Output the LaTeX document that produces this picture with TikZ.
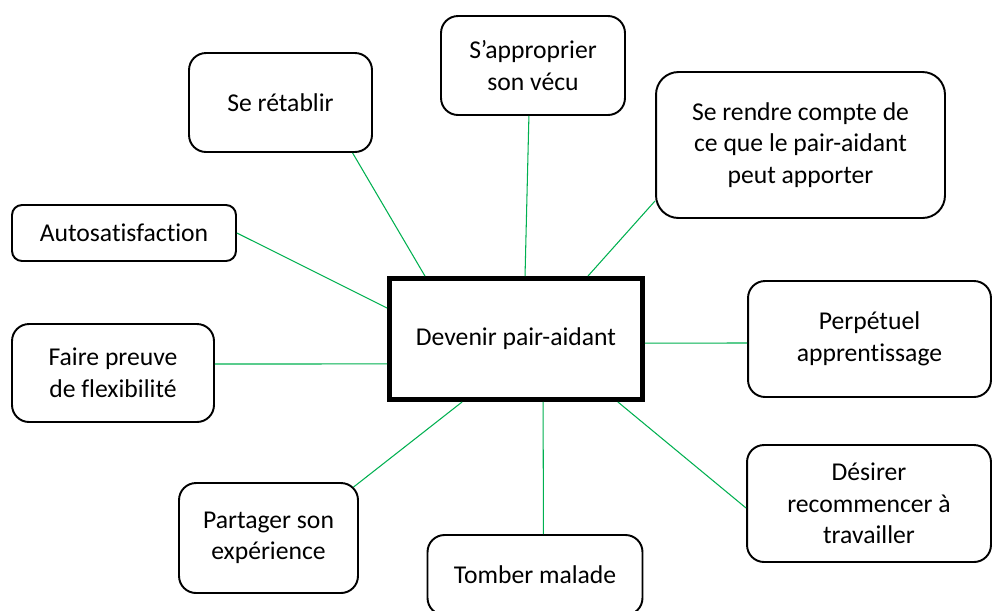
\documentclass[tikz,border=0pt]{standalone}
\usepackage{fontspec}
\setmainfont{Carlito}[Ligatures=NoCommon]
\usetikzlibrary{calc}
\definecolor{vert}{RGB}{0,176,80}

\begin{document}
\begin{tikzpicture}
			[x=0.02cm,y=-0.02cm,
			theme/.style={draw,line width=1.1pt,rounded corners=#1,align=center,inner sep=0pt,font=\fontsize{14.6pt}{18pt}\selectfont},
			theme/.default=0.34cm,
			centre/.style={draw,line width=2.8pt,align=center,inner sep=0pt,font=\fontsize{14.6pt}{18pt}\selectfont},
			lien/.style={draw=vert,line width=0.6pt},]
			\useasboundingbox (0,0) rectangle (993,610);
			\node (cen) at (516,339)[centre,minimum width=5.06cm,minimum height=2.42cm] {Devenir pair-aidant};
			\node (ret) at (280.5,102.5)[theme,minimum width=3.66cm,minimum height=1.98cm] {Se rétablir};
			\node (appr) at (533,65.5)[theme,minimum width=3.68cm,minimum height=1.98cm] {S’approprier\\son vécu};
			\node (compte) at (800.5,145)[theme=0.45cm,minimum width=5.78cm,minimum height=2.92cm] {Se rendre compte de\\ce que le pair-aidant\\peut apporter};
			\node (auto) at (124,233)[theme=0.2cm,minimum width=4.48cm,minimum height=1.12cm] {Autosatisfaction};
			\node (flex) at (113,373)[theme,minimum width=4.04cm,minimum height=1.96cm] {Faire preuve\\de flexibilité};
			\node (perp) at (869.5,339)[theme,minimum width=4.86cm,minimum height=2.32cm] {Perpétuel\\apprentissage};
			\node (desir) at (869,503.5)[theme,minimum width=4.88cm,minimum height=2.34cm] {Désirer\\recommencer à\\travailler};
			\node (part) at (268.5,538)[theme,minimum width=3.58cm,minimum height=2.2cm] {Partager son\\expérience};
			\node (tomb) at (535,575)[theme,minimum width=4.3cm,minimum height=1.6cm] {Tomber malade};
			
			\draw[lien] ($(ret.south west)!0.89!(ret.south east)$) -- ($(cen.north west)!0.147!(cen.north east)$);
			\draw[lien] ($(appr.south west)!0.478!(appr.south east)$) -- ($(cen.north west)!0.535!(cen.north east)$);
			\draw[lien] ($(compte.north west)!0.878!(compte.south west)$) -- ($(cen.north west)!0.779!(cen.north east)$);
			\draw[lien] (auto.east) -- ($(cen.north west)!0.254!(cen.south west)$);
			\draw[lien] ($(flex.north east)!0.41!(flex.south east)$) -- ($(cen.north west)!0.698!(cen.south west)$);
			\draw[lien] ($(cen.north east)!0.532!(cen.south east)$) -- ($(perp.north west)!0.534!(perp.south west)$);
			\draw[lien] ($(cen.south west)!0.895!(cen.south east)$) -- ($(desir.north west)!0.538!(desir.south west)$);
			\draw[lien] ($(cen.south west)!0.605!(cen.south east)$) -- ($(tomb.north west)!0.539!(tomb.north east)$);
			\draw[lien] ($(cen.south west)!0.291!(cen.south east)$) -- ($(part.north west)!0.97!(part.north east)+(0,5)$);
			
	\end{tikzpicture}
\end{document}
